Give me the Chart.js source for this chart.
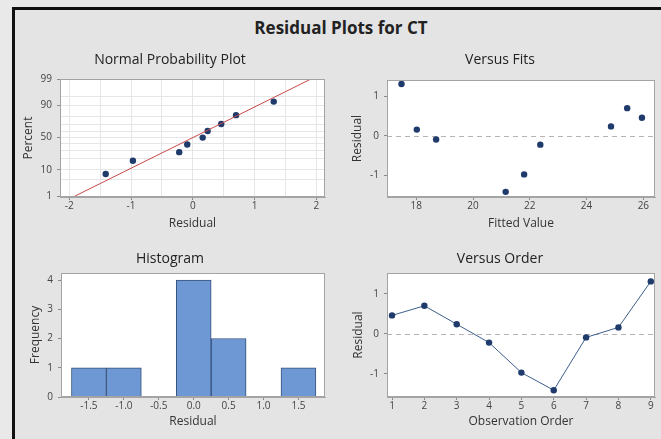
<!DOCTYPE html>
<html>
<head>
<meta charset="utf-8">
<script src="https://cdn.jsdelivr.net/npm/chart.js@4.4.1/dist/chart.umd.min.js"></script>
<style>
  html, body { margin: 0; padding: 0; width: 661px; height: 439px; overflow: hidden; background: #e9e9e9; font-family: "Open Sans", sans-serif; }
  #moldura { position: absolute; left: 12px; top: 7px; width: 700px; height: 500px; border-left: 3px solid #111; border-top: 3px solid #111; background: #e4e4e4; }
  #titulo { position: absolute; left: 0; top: 16px; width: 682px; text-align: center; font-weight: bold; font-size: 17px; color: #222; }
  canvas { position: absolute; }
</style>
</head>
<body>
<div id="moldura"></div>
<div id="titulo">Residual Plots for CT</div>
<canvas id="graficoNormal" width="320" height="190" style="left:15px;top:45px"></canvas>
<canvas id="graficoAjustes" width="316" height="190" style="left:345px;top:45px"></canvas>
<canvas id="graficoHistograma" width="320" height="191" style="left:15px;top:244px"></canvas>
<canvas id="graficoOrdem" width="316" height="191" style="left:345px;top:244px"></canvas>
<script>
// Residuos na ordem de observacao e valores ajustados
const ordemObs = [1, 2, 3, 4, 5, 6, 7, 8, 9];
const residuos = [0.46, 0.70, 0.24, -0.22, -0.97, -1.41, -0.09, 0.16, 1.31];
const ajustados = [25.95, 25.43, 24.86, 22.37, 21.80, 21.15, 18.70, 18.02, 17.48];

// Grafico de probabilidade normal
const percentuais = [7.4, 17.9, 28.2, 39.2, 50, 60.4, 70.5, 81.4, 92.4];
const linhaAjusteX = [-1.91, 1.91];
const linhaAjustePct = [1, 99];
const gradePct = [1, 5, 10, 20, 30, 40, 50, 60, 70, 80, 90, 95, 99];
const rotulosPct = [1, 10, 50, 90, 99];
const ticksNormalX = [-2, -1.5, -1, -0.5, 0, 0.5, 1, 1.5, 2];

// Histograma
const classesHist = [-1.5, -1.0, -0.5, 0.0, 0.5, 1.0, 1.5];
const frequencias = [1, 1, 0, 4, 2, 0, 1];
const ticksHistY = [0, 1, 2, 3, 4];

// Ticks dos outros paineis
const ticksAjustesX = [18, 20, 22, 24, 26];
const ticksResiduoY = [-1, 0, 1];

Chart.defaults.font.family = '"Open Sans", sans-serif';
Chart.defaults.color = '#444';

// inversa da normal padrao (Acklam) so para posicionar o eixo de probabilidade
function probit(p) {
  const a = [-39.6968302866538, 220.946098424521, -275.928510446969, 138.357751867269, -30.6647980661472, 2.50662827745924];
  const b = [-54.4760987982241, 161.585836858041, -155.698979859887, 66.8013118877197, -13.2806815528857];
  const c = [-0.00778489400243029, -0.322396458041136, -2.40075827716184, -2.54973253934373, 4.37466414146497, 2.93816398269878];
  const d = [0.00778469570904146, 0.32246712907004, 2.445134137143, 3.75440866190742];
  const pl = 0.02425;
  let q, r;
  if (p < pl) {
    q = Math.sqrt(-2 * Math.log(p));
    return (((((c[0] * q + c[1]) * q + c[2]) * q + c[3]) * q + c[4]) * q + c[5]) / ((((d[0] * q + d[1]) * q + d[2]) * q + d[3]) * q + 1);
  }
  if (p > 1 - pl) {
    q = Math.sqrt(-2 * Math.log(1 - p));
    return -(((((c[0] * q + c[1]) * q + c[2]) * q + c[3]) * q + c[4]) * q + c[5]) / ((((d[0] * q + d[1]) * q + d[2]) * q + d[3]) * q + 1);
  }
  q = p - 0.5;
  r = q * q;
  return (((((a[0] * r + a[1]) * r + a[2]) * r + a[3]) * r + a[4]) * r + a[5]) * q / (((((b[0] * r + b[1]) * r + b[2]) * r + b[3]) * r + b[4]) * r + 1);
}

// fundo branco, moldura da area do grafico e linha de referencia em zero
const pluginMoldura = {
  id: 'moldura',
  beforeDraw(chart, args, opts) {
    const { ctx, chartArea: a } = chart;
    ctx.save();
    ctx.fillStyle = '#ffffff';
    ctx.fillRect(a.left, a.top, a.right - a.left, a.bottom - a.top);
    ctx.restore();
  },
  beforeDatasetsDraw(chart, args, opts) {
    if (!opts.linhaZero) return;
    const { ctx, chartArea: a } = chart;
    const y = Math.round(chart.scales.y.getPixelForValue(0)) + 0.5;
    ctx.save();
    ctx.strokeStyle = '#b9b3b3';
    ctx.lineWidth = 1;
    ctx.setLineDash([5, 4]);
    ctx.beginPath();
    ctx.moveTo(a.left, y);
    ctx.lineTo(a.right, y);
    ctx.stroke();
    ctx.restore();
  },
  afterDraw(chart) {
    const { ctx, chartArea: a } = chart;
    ctx.save();
    ctx.strokeStyle = '#a4a4a4';
    ctx.lineWidth = 1;
    ctx.strokeRect(Math.round(a.left) + 0.5, Math.round(a.top) + 0.5, Math.round(a.right - a.left) - 1, Math.round(a.bottom - a.top) - 1);
    ctx.restore();
  }
};
Chart.register(pluginMoldura);

// monta as opcoes comuns de cada painel
function montarOpcoes(p) {
  return {
    responsive: false,
    animation: false,
    devicePixelRatio: 1,
    layout: { padding: { left: 0, top: 0, right: p.padDireita, bottom: 0 } },
    plugins: {
      legend: { display: false },
      tooltip: { enabled: false },
      moldura: { linhaZero: !!p.linhaZero },
      title: {
        display: true,
        text: p.titulo,
        color: '#222',
        font: { size: 14, weight: 'normal' },
        padding: { top: 6.6, bottom: p.titPadBaixo }
      }
    },
    scales: {
      x: {
        type: 'linear',
        min: p.xMin,
        max: p.xMax,
        offset: false,
        afterBuildTicks: s => { s.ticks = p.xTicks.map(v => ({ value: v })); },
        afterFit: s => { s.height = 38; },
        ticks: { font: { size: 10 }, color: '#444', padding: 0, autoSkip: false, maxRotation: 0, callback: p.xRotulo },
        grid: {
          offset: false,
          drawOnChartArea: !!p.gradeX,
          color: '#e6e6e6',
          tickLength: 3,
          tickColor: p.xTickCor || '#8a8a8a'
        },
        border: { color: '#a4a4a4' },
        title: { display: true, text: p.xTitulo, color: '#333', font: { size: 12 }, padding: { top: 0, bottom: p.xTitPad } }
      },
      y: {
        type: 'linear',
        min: p.yMin,
        max: p.yMax,
        afterBuildTicks: s => { s.ticks = p.yTicks.map(v => ({ value: v })); },
        afterFit: s => { s.width = p.yLargura; },
        ticks: { font: { size: 10 }, color: '#444', padding: 5, autoSkip: false, callback: p.yRotulo },
        grid: {
          drawOnChartArea: !!p.gradeY,
          color: '#e6e6e6',
          tickLength: 3,
          tickColor: p.yTickCor || '#8a8a8a'
        },
        border: { color: '#a4a4a4' },
        title: { display: true, text: p.yTitulo, color: '#333', font: { size: 12 }, padding: { top: p.yTitPad, bottom: 0 } }
      }
    }
  };
}

const corPonto = '#1f3b6b';

// Normal Probability Plot
const residuosOrdenados = residuos.slice().sort((a, b) => a - b);
new Chart(document.getElementById('graficoNormal'), {
  type: 'scatter',
  data: {
    datasets: [{
      data: linhaAjusteX.map((v, i) => ({ x: v, y: probit(linhaAjustePct[i] / 100) })),
      showLine: true,
      borderColor: '#cc4a4a',
      borderWidth: 1,
      pointRadius: 0
    }, {
      data: residuosOrdenados.map((v, i) => ({ x: v, y: probit(percentuais[i] / 100) })),
      backgroundColor: corPonto,
      borderWidth: 0,
      pointRadius: 3.2
    }]
  },
  options: montarOpcoes({
    titulo: 'Normal Probability Plot', titPadBaixo: 10.6, padDireita: 10,
    xMin: -2.15, xMax: 2.14, xTicks: ticksNormalX, gradeX: true,
    xRotulo: v => Number.isInteger(v) ? String(v) : '',
    xTickCor: c => (c.tick && Number.isInteger(c.tick.value)) ? '#8a8a8a' : 'rgba(0,0,0,0)',
    xTitulo: 'Residual', xTitPad: 3.8,
    yMin: -2.36, yMax: 2.33, yTicks: gradePct.map(p => probit(p / 100)), gradeY: true,
    yRotulo: (v, i) => rotulosPct.includes(gradePct[i]) ? String(gradePct[i]) : '',
    yTickCor: c => (c.index !== undefined && rotulosPct.includes(gradePct[c.index])) ? '#8a8a8a' : 'rgba(0,0,0,0)',
    yLargura: 45, yTitulo: 'Percent', yTitPad: 6.8
  })
});

// Versus Fits
new Chart(document.getElementById('graficoAjustes'), {
  type: 'scatter',
  data: {
    datasets: [{
      data: ajustados.map((v, i) => ({ x: v, y: residuos[i] })),
      backgroundColor: corPonto,
      borderWidth: 0,
      pointRadius: 3.2
    }]
  },
  options: montarOpcoes({
    titulo: 'Versus Fits', titPadBaixo: 11.6, padDireita: 6, linhaZero: true,
    xMin: 16.97, xMax: 26.41, xTicks: ticksAjustesX,
    xRotulo: v => String(v), xTitulo: 'Fitted Value', xTitPad: 3.8,
    yMin: -1.54, yMax: 1.41, yTicks: ticksResiduoY,
    yRotulo: v => String(v), yLargura: 42, yTitulo: 'Residual', yTitPad: 5.8
  })
});

// Histogram
new Chart(document.getElementById('graficoHistograma'), {
  type: 'bar',
  data: {
    datasets: [{
      data: classesHist.map((c, i) => ({ x: c, y: frequencias[i] })),
      backgroundColor: '#6e98d4',
      borderColor: '#34507a',
      borderWidth: 1,
      barPercentage: 1,
      categoryPercentage: 1
    }]
  },
  options: montarOpcoes({
    titulo: 'Histogram', titPadBaixo: 5.6, padDireita: 10,
    xMin: -1.90, xMax: 1.88, xTicks: classesHist,
    xRotulo: v => v.toFixed(1), xTitulo: 'Residual', xTitPad: 6.3,
    yMin: 0, yMax: 4.24, yTicks: ticksHistY,
    yRotulo: v => String(v), yLargura: 46, yTitulo: 'Frequency', yTitPad: 13.8
  })
});

// Versus Order
new Chart(document.getElementById('graficoOrdem'), {
  type: 'scatter',
  data: {
    datasets: [{
      data: ordemObs.map((o, i) => ({ x: o, y: residuos[i] })),
      showLine: true,
      borderColor: '#3d5f8c',
      borderWidth: 1,
      backgroundColor: corPonto,
      pointBorderWidth: 0,
      pointRadius: 3.2
    }]
  },
  options: montarOpcoes({
    titulo: 'Versus Order', titPadBaixo: 5.6, padDireita: 6, linhaZero: true,
    xMin: 0.845, xMax: 9.13, xTicks: ordemObs,
    xRotulo: v => String(v), xTitulo: 'Observation Order', xTitPad: 6.3,
    yMin: -1.58, yMax: 1.52, yTicks: ticksResiduoY,
    yRotulo: v => String(v), yLargura: 42, yTitulo: 'Residual', yTitPad: 6.8
  })
});
</script>
</body>
</html>
